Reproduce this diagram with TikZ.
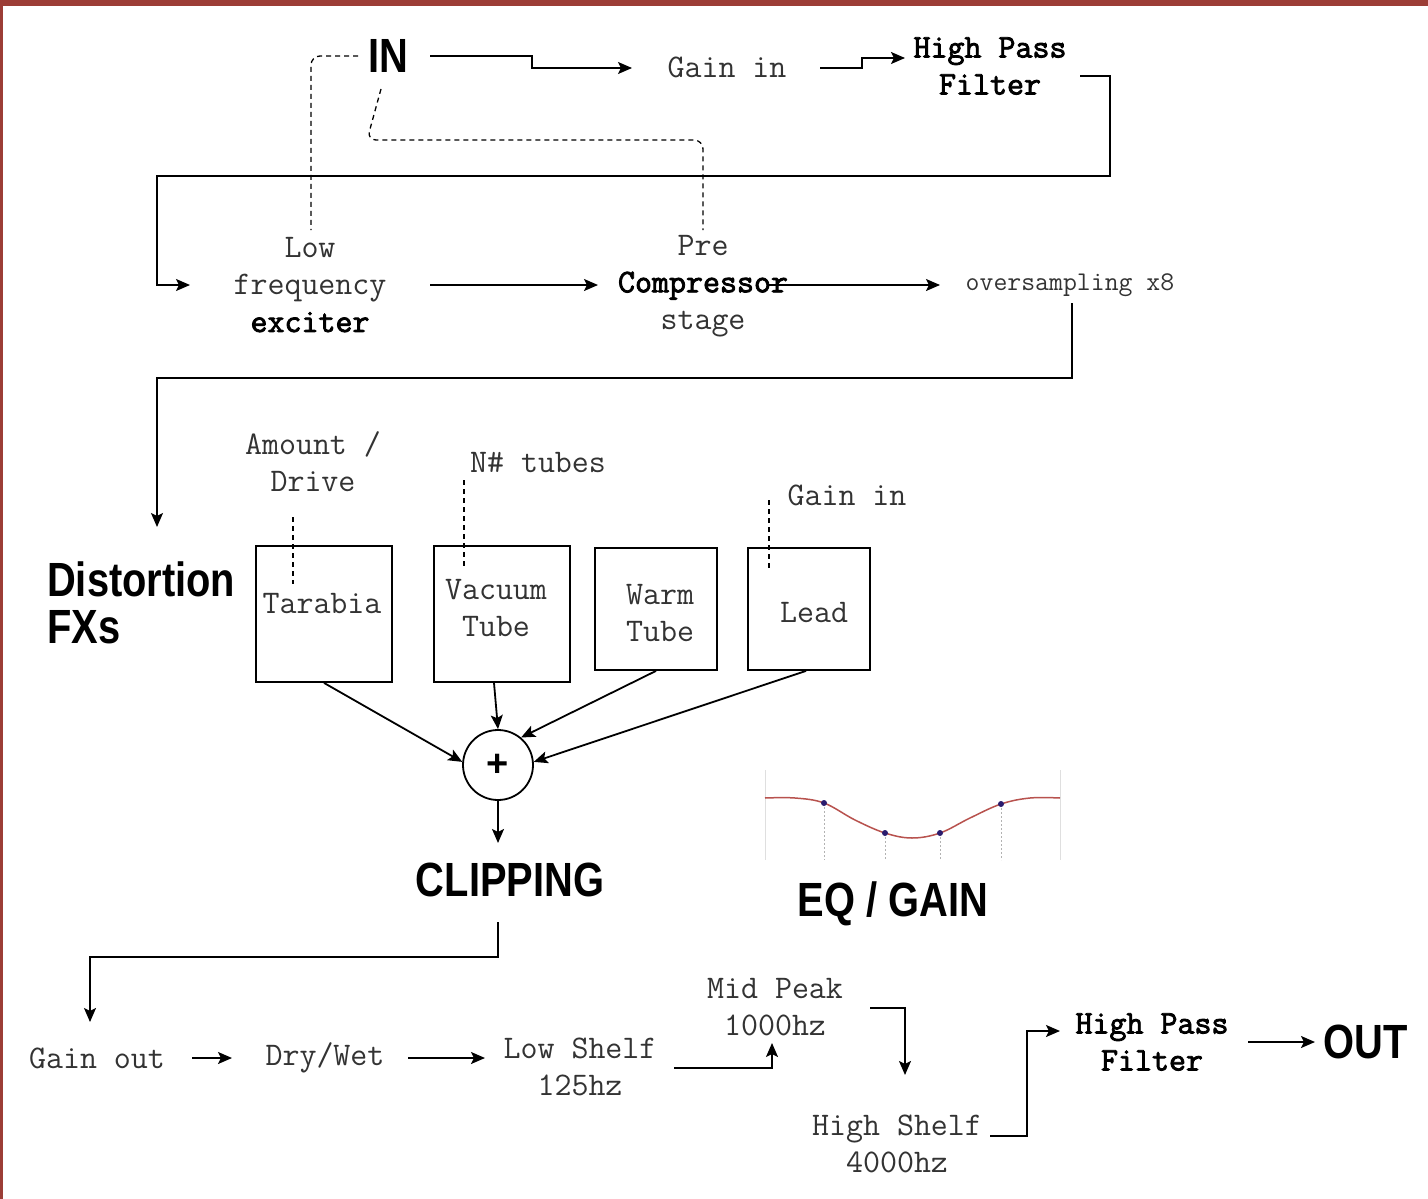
\documentclass[tikz,border=0pt]{standalone}
\usepackage{fontspec}
\usepackage{graphicx}
\newfontfamily\hfont{Liberation Sans}
\newfontfamily\tbf{Latin Modern Mono}[FakeBold=2.5]
\usetikzlibrary{arrows.meta}
\definecolor{frame}{HTML}{9C3D36}
\definecolor{txt}{HTML}{333333}
\definecolor{eqred}{HTML}{B8524E}
\definecolor{eqdot}{HTML}{2A1C6E}
\tikzset{
 mono/.style={font=\ttfamily\fontsize{33}{37}\selectfont, text=txt, align=center, inner sep=0pt},
 monob/.style={font=\tbf\fontsize{33}{37}\selectfont, text=black, align=center, inner sep=0pt},
 big/.style={font=\hfont\bfseries\fontsize{48}{48}\selectfont, inner sep=0pt},
 ln/.style={line width=1.8pt, draw=black},
 arr/.style={ln, -{Stealth[length=14pt,width=12pt,inset=3pt]}},
 dsh/.style={line width=1.3pt, draw=black, dash pattern=on 5pt off 4pt},
 fxbox/.style={draw, line width=1.8pt, inner sep=0pt}
}
\begin{document}
\begin{tikzpicture}[x=1pt,y=-1pt]
\useasboundingbox (0,0) rectangle (1428,1199);
\fill[white] (0,0) rectangle (1428,1199);
\fill[frame] (0,0) rectangle (1428,6);
\fill[frame] (0,0) rectangle (3,1199);

% ---------- top row ----------
\node[big] (in) at (388,56) {\scalebox{0.83}[1]{IN}};
\node[mono] (gainin) at (727,67) {Gain in};
\node[monob] (hpf1) at (990,66) {High Pass\\Filter};

\coordinate (a1) at (430,56);
\coordinate (a1t) at (632,68);
\draw[arr] (a1) -- (532,56) -- (532,68) -- (a1t);
\coordinate (a2) at (820,68);
\coordinate (a2t) at (905,58);
\draw[arr] (a2) -- (862,68) -- (862,58) -- (a2t);

\node[mono] (lfe) at (310,285) {Low\\frequency\\\textcolor{black}{\tbf exciter}};
\node[mono] (pre) at (703,286) {Pre\\\textcolor{black}{\tbf Compressor}\\stage};
\node[font=\ttfamily\fontsize{27}{30}\selectfont, text=txt, inner sep=0pt] (over) at (1070,285) {oversampling x8};

\coordinate (b1) at (1080,76);
\coordinate (b1t) at (190,285);
\draw[arr] (b1) -- (1110,76) -- (1110,176) -- (157,176) -- (157,285) -- (b1t);

\coordinate (c1) at (430,285);
\coordinate (c1t) at (598,285);
\draw[arr] (c1) -- (c1t);
\coordinate (c2) at (768,285);
\coordinate (c2t) at (940,285);
\draw[arr] (c2) -- (c2t);

% dashed control links
\coordinate (d1) at (358,56);
\coordinate (d1e) at (311,230);
\draw[dsh, rounded corners=9pt] (d1) -- (311,56) -- (d1e);
\coordinate (d2) at (381,89);
\coordinate (d2e) at (703,230);
\draw[dsh, rounded corners=9pt] (d2) -- (367,140) -- (703,140) -- (d2e);

% ---------- distortion ----------
\coordinate (e1) at (1072,303);
\coordinate (e1t) at (157,527);
\draw[arr] (e1) -- (1072,378) -- (157,378) -- (e1t);

\node[big, anchor=west] (dist) at (47,579) {\scalebox{0.83}[1]{Distortion}};
\node[big, anchor=west] (fxs) at (47,627) {\scalebox{0.83}[1]{FXs}};

\node[mono] (amount) at (313,462) {Amount /\\Drive};
\node[mono] (ntubes) at (538,463) {N\# tubes};
\node[mono] (gainin2) at (847,495) {Gain in};

\node[fxbox, minimum width=136pt, minimum height=136pt] (tarabia) at (324,614) {};
\node[fxbox, minimum width=136pt, minimum height=136pt] (vacuum) at (502,614) {};
\node[fxbox, minimum width=122pt, minimum height=122pt] (warm) at (656,609) {};
\node[fxbox, minimum width=122pt, minimum height=122pt] (lead) at (809,609) {};

\node[mono] (tarabiat) at (322,604) {Tarabia};
\node[mono] (vacuumt) at (496,608) {Vacuum\\Tube};
\node[mono] (warmt) at (660,613) {Warm\\Tube};
\node[mono] (leadt) at (814,613) {Lead};

\coordinate (f1) at (293,517);
\coordinate (f1e) at (293,584);
\draw[dsh] (f1) -- (f1e);
\coordinate (f2) at (464,480);
\coordinate (f2e) at (464,568);
\draw[dsh] (f2) -- (f2e);
\coordinate (f3) at (769,500);
\coordinate (f3e) at (769,568);
\draw[dsh] (f3) -- (f3e);

\node[circle, draw, line width=1.8pt, minimum size=70pt, inner sep=0pt,
      font=\hfont\bfseries\fontsize{38}{38}\selectfont] (sum) at (498,765) {+};

\draw[arr] (tarabia.south) -- (sum.175);
\draw[arr] ([xshift=-8pt]vacuum.south) -- (sum.north);
\draw[arr] (warm.south) -- (sum.50);
\draw[arr] ([xshift=-3pt]lead.south) -- (sum.5);

\coordinate (g1t) at (498,843);
\draw[arr] (sum.south) -- (g1t);
\node[big] (clip) at (510,880) {\scalebox{0.83}[1]{CLIPPING}};

% ---------- EQ graphic ----------
\draw[gray!25, line width=0.8pt] (765,770) -- (765,860);
\draw[gray!25, line width=0.8pt] (1060,770) -- (1060,860);
\foreach \xx/\yy in {824/803, 885/833, 940/833, 1001/804}{
  \draw[gray!60, line width=1pt, dash pattern=on 2pt off 2pt] (\xx,\yy) -- (\xx,860);
}
\draw[eqred, line width=1.5pt] plot[smooth, tension=0.6] coordinates
  {(765,798) (795,798) (824,803) (855,820) (885,833) (912,838) (940,833) (970,818) (1001,804) (1030,798) (1060,798)};
\foreach \xx/\yy in {824/803, 885/833, 940/833, 1001/804}{
  \fill[eqdot] (\xx,\yy) circle (3pt);
}
\node[big] (eq) at (893,904) {\scalebox{0.83}[1]{EQ / GAIN}};

% ---------- bottom row ----------
\coordinate (h1) at (498,922);
\coordinate (h1t) at (90,1022);
\draw[arr] (h1) -- (498,957) -- (90,957) -- (h1t);

\node[mono] (gainout) at (97,1058) {Gain out};
\node[mono] (drywet) at (325,1058) {Dry/Wet};
\node[mono] (lowshelf) at (580,1067) {Low Shelf\\125hz};
\node[mono] (midpeak) at (775,1007) {Mid Peak\\1000hz};
\node[mono] (highshelf) at (897,1144) {High Shelf\\4000hz};
\node[monob] (hpf2) at (1152,1042) {High Pass\\Filter};
\node[big] (out) at (1366,1042) {\scalebox{0.83}[1]{OUT}};

\coordinate (k1) at (192,1058);
\coordinate (k1t) at (232,1058);
\draw[arr] (k1) -- (k1t);
\coordinate (k2) at (408,1058);
\coordinate (k2t) at (485,1058);
\draw[arr] (k2) -- (k2t);
\coordinate (k3) at (674,1068);
\coordinate (k3t) at (772,1043);
\draw[arr] (k3) -- (772,1068) -- (k3t);
\coordinate (k4) at (870,1008);
\coordinate (k4t) at (905,1075);
\draw[arr] (k4) -- (905,1008) -- (k4t);
\coordinate (k5) at (990,1136);
\coordinate (k5t) at (1060,1031);
\draw[arr] (k5) -- (1027,1136) -- (1027,1031) -- (k5t);
\coordinate (k6) at (1248,1042);
\coordinate (k6t) at (1315,1042);
\draw[arr] (k6) -- (k6t);
\end{tikzpicture}
\end{document}
